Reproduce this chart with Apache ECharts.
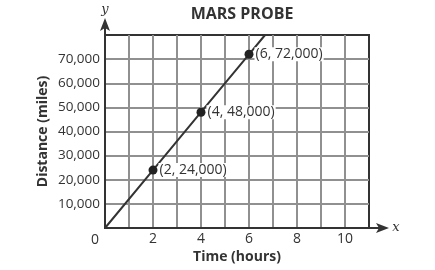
<!DOCTYPE html>
<html><head><meta charset="utf-8">
<script src="https://cdn.jsdelivr.net/npm/echarts@6/dist/echarts.min.js"></script>
<style>html,body{margin:0;padding:0;background:#fff}#c{width:435px;height:270px}</style>
</head><body><div id="c"></div>
<script>
const title = 'MARS PROBE';
const xName = 'Time (hours)';
const yName = 'Distance (miles)';
const timeHours = [0, 2, 4, 6, 6.67];
const distanceMiles = [0, 24000, 48000, 72000, 80000];
const labeled = [false, true, true, true, false];
const xMin = 0, xMax = 11, xStep = 1;
const yMin = 0, yMax = 80000, yStep = 10000;

const font = '"Open Sans", "Noto Sans", sans-serif';
const fmt = v => v.toLocaleString('en-US');
const chart = echarts.init(document.getElementById('c'), null, {renderer: 'canvas'});

const data = timeHours.map((t, i) => {
  const item = {value: [t, distanceMiles[i]]};
  if (!labeled[i]) { item.symbol = 'none'; item.label = {show: false}; }
  return item;
});

chart.setOption({
  animation: false,
  title: {text: title, left: 237, top: 1, textAlign: 'center',
    textStyle: {fontFamily: font, fontSize: 16, fontWeight: 'bold', color: '#333'}},
  grid: {left: 105, right: 66, top: 35, bottom: 42, show: true, borderColor: '#333', borderWidth: 2, backgroundColor: 'transparent'},
  xAxis: {type: 'value', min: xMin, max: xMax, interval: xStep,
    name: xName, nameLocation: 'middle', nameGap: 22, nameMoveOverlap: false,
    nameTextStyle: {fontFamily: font, fontSize: 14, fontWeight: 'bold', color: '#333'},
    axisLine: {show: true, lineStyle: {color: '#333', width: 2}},
    axisTick: {show: false},
    axisLabel: {fontFamily: font, fontSize: 14, color: '#333', margin: 4,
      formatter: v => (v > 0 && v < xMax && v % 2 === 0) ? String(v) : ''},
    splitLine: {show: true, showMinLine: false, showMaxLine: false, lineStyle: {color: '#909090', width: 2}}},
  yAxis: {type: 'value', min: yMin, max: yMax, interval: yStep,
    name: yName, nameLocation: 'middle', nameGap: 55, nameRotate: 90, nameMoveOverlap: false,
    nameTextStyle: {fontFamily: font, fontSize: 14, fontWeight: 'bold', color: '#333'},
    axisLine: {show: true, lineStyle: {color: '#333', width: 2}},
    axisTick: {show: false},
    axisLabel: {fontFamily: font, fontSize: 13.5, color: '#333', margin: 5,
      formatter: v => (v > yMin && v < yMax) ? fmt(v) : ''},
    splitLine: {show: true, showMinLine: false, showMaxLine: false, lineStyle: {color: '#909090', width: 2}}},
  series: [{type: 'line', data: data, symbol: 'circle', symbolSize: 9,
    lineStyle: {color: '#333', width: 2}, itemStyle: {color: '#222'},
    label: {show: true, position: 'right', distance: 1, fontFamily: font, fontSize: 14, color: '#333',
      backgroundColor: '#fff', padding: [0, 1],
      formatter: p => '(' + p.value[0] + ', ' + fmt(p.value[1]) + ')'}}]
});

const o = chart.convertToPixel({gridIndex: 0}, [xMin, yMin]);
const tr = chart.convertToPixel({gridIndex: 0}, [xMax, yMax]);
chart.setOption({graphic: [
  {type: 'line', shape: {x1: o[0], y1: tr[1], x2: o[0], y2: tr[1] - 10}, style: {stroke: '#333', lineWidth: 2}},
  {type: 'polygon', shape: {points: [[o[0], tr[1] - 17], [o[0] - 5, tr[1] - 4], [o[0], tr[1] - 7], [o[0] + 5, tr[1] - 4]]}, style: {fill: '#333'}},
  {type: 'line', shape: {x1: tr[0], y1: o[1], x2: tr[0] + 12, y2: o[1]}, style: {stroke: '#333', lineWidth: 2}},
  {type: 'polygon', shape: {points: [[tr[0] + 20, o[1]], [tr[0] + 7, o[1] - 5], [tr[0] + 10, o[1]], [tr[0] + 7, o[1] + 5]]}, style: {fill: '#333'}},
  {type: 'text', x: o[0], y: tr[1] - 25, style: {text: 'y', font: 'italic 13px "DejaVu Serif", serif', fill: '#333', align: 'center', verticalAlign: 'middle'}},
  {type: 'text', x: tr[0] + 27, y: o[1], style: {text: 'x', font: 'italic 13px "DejaVu Serif", serif', fill: '#333', align: 'center', verticalAlign: 'middle'}},
  {type: 'text', x: o[0] - 10, y: o[1] + 12, style: {text: '0', font: '14px ' + font, fill: '#333', align: 'center', verticalAlign: 'middle'}}
]});
</script></body></html>
